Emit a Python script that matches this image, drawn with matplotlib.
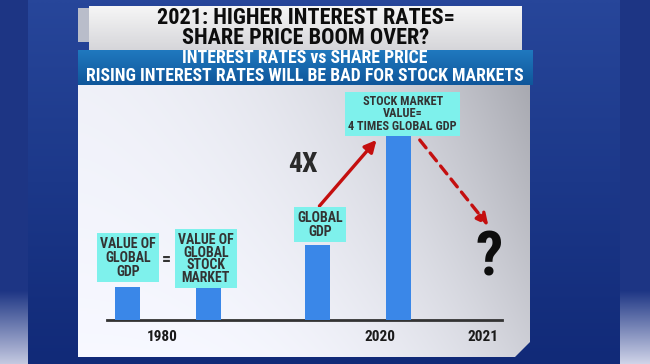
import matplotlib.pyplot as plt
import numpy as np
from matplotlib.patches import Polygon, Rectangle

plt.rcParams["font.family"] = ["Roboto Condensed", "DejaVu Sans Condensed", "Roboto", "DejaVu Sans"]

# bar heights, relative to global GDP in 1980
bar_names = ["GDP 1980", "Stock market 1980", "GDP 2020", "Stock market 2020"]
bar_values = [1.0, 0.97, 2.27, 5.58]
year_labels = ["1980", "2020", "2021"]

title_lines = "2021: HIGHER INTEREST RATES=\nSHARE PRICE BOOM OVER?"
band_lines = "INTEREST RATES vs SHARE PRICE\nRISING INTEREST RATES WILL BE BAD FOR STOCK MARKETS"
box_texts = ["VALUE OF\nGLOBAL\nGDP", "VALUE OF\nGLOBAL\nSTOCK\nMARKET",
             "GLOBAL\nGDP", "STOCK MARKET\nVALUE=\n4 TIMES GLOBAL GDP"]

W, H = 650, 364
fig = plt.figure(figsize=(6.5, 3.64), dpi=100)
fig.patch.set_facecolor("#1d3584")

bg = fig.add_axes([0, 0, 1, 1])
bg.set_xlim(0, W)
bg.set_ylim(H, 0)
bg.axis("off")


def gradient(ax, x0, x1, y0, y1, c_top, c_bot):
    top = np.array(plt.matplotlib.colors.to_rgb(c_top))
    bot = np.array(plt.matplotlib.colors.to_rgb(c_bot))
    t = np.linspace(0, 1, 64)
    img = (top[None, :] * (1 - t[:, None]) + bot[None, :] * t[:, None])[:, None, :]
    return ax.imshow(img, extent=(x0, x1, y1, y0), aspect="auto", zorder=1, interpolation="bilinear")


# backdrop: plain side strips, darker chart-like middle
gradient(bg, 28, 620, 0, H, "#27469a", "#112a78")
gradient(bg, 0, 28, 290, H, "#1d3584", "#c3c8e0")
gradient(bg, 620, W, 290, H, "#1d3584", "#cfd3e8")

# white panel with a clipped lower-right corner
panel = Polygon([(78, 85), (530, 85), (530, 342), (515, 357), (78, 357)], closed=True,
                facecolor="none", edgecolor="none", zorder=2)
bg.add_patch(panel)
xx, yy = np.meshgrid(np.linspace(0, 1, 120), np.linspace(0, 1, 80))
shade = 0.97 - 0.16 * xx ** 3 - 0.12 * (1 - yy) * xx ** 1.5 - 0.03 * (1 - yy)
rgb = np.dstack([shade, shade + 0.005, shade + 0.035]).clip(0, 1)
im = bg.imshow(rgb, extent=(78, 530, 357, 85), aspect="auto", zorder=2, interpolation="bilinear")
im.set_clip_path(panel)

# title box and blue band
bg.add_patch(Rectangle((78, 8), 11, 34, facecolor="#b9bdca", edgecolor="none", zorder=3))
gradient(bg, 89, 522, 6, 50, "#f6f6f6", "#d6d6da").set_zorder(3)
gradient(bg, 78, 533, 50, 85, "#2079bf", "#0f569a").set_zorder(3)
bg.text(306, 28, title_lines, ha="center", va="center", fontsize=16, fontweight="bold",
        color="#0d0d0d", linespacing=0.92, zorder=4)
bg.text(305, 67, band_lines, ha="center", va="center", fontsize=12.8, fontweight="bold",
        color="white", linespacing=0.98, zorder=4)

# chart area: baseline at y=320 px, 33 px per unit
ax = fig.add_axes([107 / W, (H - 320) / H, 395 / W, 235 / H])
ax.patch.set_alpha(0)
ax.set_xlim(0, 395 / 81)
ax.set_ylim(0, 235 / 33)
for side in ["top", "left", "right"]:
    ax.spines[side].set_visible(False)
ax.spines["bottom"].set_color("#333333")
ax.spines["bottom"].set_linewidth(2)
ax.set_yticks([])

x_pos = [0.25, 1.25, 2.6, 3.6]
ax.bar(x_pos, bar_values, width=0.31, color="#3a87e8", zorder=3)

ax.set_xticks([0.68, 3.37, 4.64], year_labels)
ax.tick_params(axis="x", length=0, pad=7, labelsize=11, labelcolor="#1a1a1a")
for lbl in ax.get_xticklabels():
    lbl.set_fontweight("bold")

box_pos = [(0.26, 1.88), (1.22, 1.85), (2.63, 2.88), (3.65, 6.25)]
box_size = [10, 10, 10, 8.8]
box_spacing = [1.0, 0.88, 1.0, 0.95]
for txt, (bx, by), fs, ls in zip(box_texts, box_pos, box_size, box_spacing):
    ax.text(bx, by, txt, ha="center", va="center", fontsize=fs, fontweight="bold",
            color="#333333", linespacing=ls, zorder=4,
            bbox=dict(boxstyle="square,pad=0.25", facecolor="#7ef1ec", edgecolor="none"))

ax.text(0.73, 1.82, "=", ha="center", va="center", fontsize=13, fontweight="bold", color="#333333")
ax.text(2.42, 4.7, "4X", ha="center", va="center", fontsize=20, fontweight="bold", color="#2a2a2a")
ax.text(4.72, 1.85, "?", ha="center", va="center", fontsize=44, fontweight="bold", color="#0d0d0d")

arrow_red = "#c40f0f"
ax.annotate("", xy=(3.35, 5.52), xytext=(2.6, 3.39),
            arrowprops=dict(arrowstyle="-|>,head_length=0.7,head_width=0.35", color=arrow_red, lw=2.4))
ax.annotate("", xy=(4.73, 2.79), xytext=(3.84, 5.52),
            arrowprops=dict(arrowstyle="-|>,head_length=0.7,head_width=0.35", color=arrow_red, lw=2.4,
                            linestyle=(0, (3, 2))))

fig.savefig("out.png", dpi=100, facecolor=fig.get_facecolor())
